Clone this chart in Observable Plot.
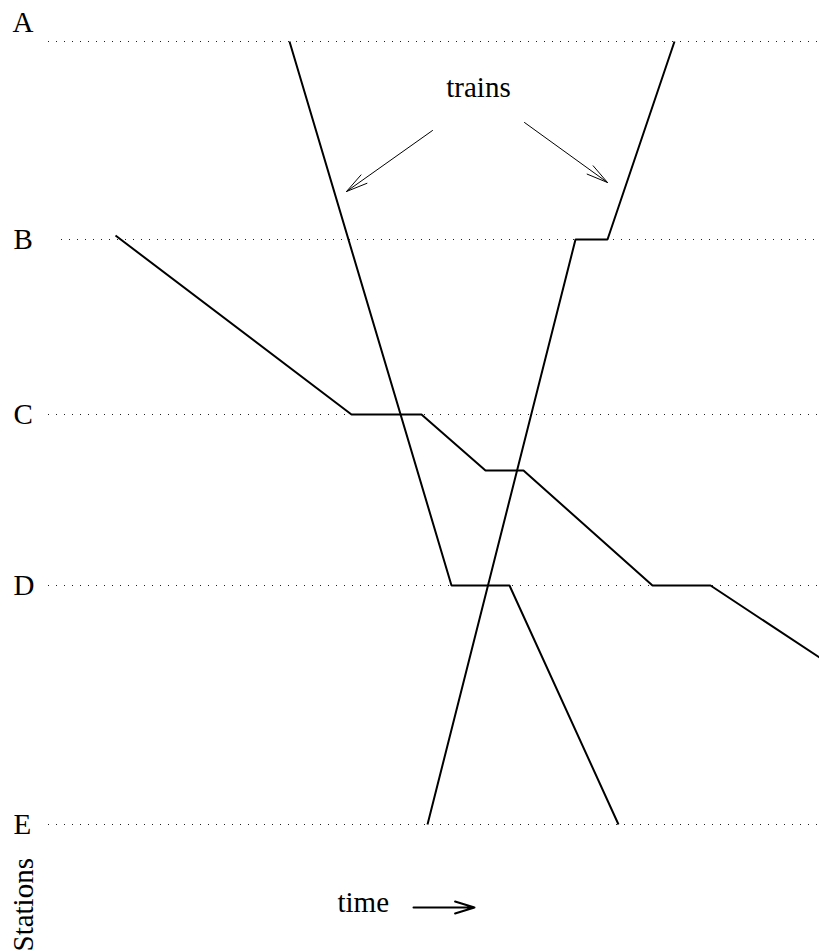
<!DOCTYPE html>
<html><head><meta charset="utf-8">
<script src="https://cdn.jsdelivr.net/npm/d3@7"></script>
<script src="https://cdn.jsdelivr.net/npm/@observablehq/plot@0.6"></script>
<style>body{margin:0;background:#fff;}</style>
</head><body><div id="chart"></div>
<script>
// Stations and their distance along the line
const stations = ["A", "B", "C", "D", "E"];
const stationDistance = [0, 198, 373, 544, 783];

// Train paths: time vs. distance
const train1Time = [289, 451, 509, 618];
const train1Dist = [0, 544, 544, 783];
const train2Time = [427, 575, 607, 674];
const train2Dist = [783, 198, 198, 0];
const train3Time = [115, 351, 421, 485, 523, 652, 710, 819];
const train3Dist = [194, 373, 373, 429, 429, 544, 544, 616];

const stationRows = stations.map((s, i) => ({station: s, dist: stationDistance[i]}));
const trainRows = [
  ...train1Time.map((t, i) => ({train: "1", time: t, dist: train1Dist[i]})),
  ...train2Time.map((t, i) => ({train: "2", time: t, dist: train2Dist[i]})),
  ...train3Time.map((t, i) => ({train: "3", time: t, dist: train3Dist[i]}))
];

const font = "'Liberation Serif', 'Times New Roman', serif";

const chart = Plot.plot({
  width: 819,
  height: 952,
  marginTop: 41,
  marginBottom: 128,
  marginLeft: 0,
  marginRight: 0,
  x: {domain: [0, 819], axis: null},
  y: {domain: [0, 783], reverse: true, axis: null},
  style: {fontFamily: font, background: "white", color: "black"},
  marks: [
    Plot.ruleY(stationRows, {
      y: "dist",
      x1: d => (d.station === "B" ? 61 : 48),
      x2: 819,
      stroke: "#222",
      strokeWidth: 1,
      strokeDasharray: "1,7"
    }),
    Plot.text(stationRows.filter(d => d.station !== "A"), {
      y: "dist", text: "station", frameAnchor: "left", dx: 13,
      textAnchor: "start", fontSize: 29, fill: "black"
    }),
    Plot.text(stationRows.filter(d => d.station === "A"), {
      y: "dist", text: "station", frameAnchor: "left", dx: 12, dy: -19,
      textAnchor: "start", fontSize: 29, fill: "black"
    }),
    Plot.line(trainRows, {
      x: "time", y: "dist", z: "train",
      stroke: "black", strokeWidth: 2, strokeLinejoin: "miter", strokeLinecap: "butt"
    }),
    Plot.text(["trains"], {
      x: 478, y: 55, text: d => d, fontSize: 29, lineAnchor: "bottom", fill: "black"
    }),
    Plot.arrow([{x1: 432, y1: 89, x2: 346, y2: 150}, {x1: 524, y1: 81, x2: 607, y2: 141}], {
      x1: "x1", y1: "y1", x2: "x2", y2: "y2",
      stroke: "black", strokeWidth: 1, headLength: 33, headAngle: 27
    }),
    Plot.text(["time"], {
      x: 337, y: 870, text: d => d, fontSize: 29, textAnchor: "start", lineAnchor: "bottom", fill: "black"
    }),
    Plot.arrow([{x1: 413, y1: 866, x2: 474, y2: 866}], {
      x1: "x1", y1: "y1", x2: "x2", y2: "y2",
      stroke: "black", strokeWidth: 2, headLength: 16, headAngle: 34
    }),
    Plot.text(["Stations"], {
      x: 32, y: 910, text: d => d, fontSize: 29, rotate: -90,
      textAnchor: "start", lineAnchor: "bottom", fill: "black"
    })
  ]
});
document.getElementById("chart").appendChild(chart);
</script>
</body></html>
